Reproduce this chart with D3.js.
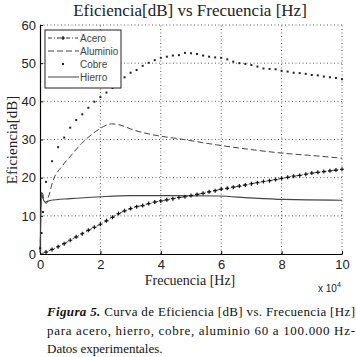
<!DOCTYPE html>
<html>
    <head>
        <meta charset="UTF-8"/>
        <style>
            body { margin: 0; background: #fff; }
        </style>
    </head>
    <body>
        <script src="https://d3js.org/d3.v7.min.js" type="text/javascript"></script>
        <script>
        let width = 356;
        let height = 357;

        // frecuencias medidas [Hz] (acero y cobre)
        let frecMedida = [60, 500, 1000,
            2000, 4000, 6000, 8000, 10000, 12000, 14000, 16000, 18000, 20000,
            22000, 24000, 26000, 28000, 30000, 32000, 34000, 36000, 38000, 40000,
            42000, 44000, 46000, 48000, 50000, 52000, 54000, 56000, 58000, 60000,
            62000, 64000, 66000, 68000, 70000, 72000, 74000, 76000, 78000, 80000,
            82000, 84000, 86000, 88000, 90000, 92000, 94000, 96000, 98000, 100000];
        let acero = [0, 0.1, 0.2,
            0.5, 1.2, 1.9, 2.7, 3.6, 4.5, 5.3, 6.2, 7.0, 7.8,
            8.7, 9.6, 10.6, 11.3, 11.9, 12.4, 12.7, 13.2, 13.6, 13.9,
            14.2, 14.5, 14.8, 15.0, 15.3, 15.6, 15.9, 16.3, 16.6, 17.0,
            17.2, 17.5, 17.8, 18.1, 18.4, 18.7, 19.0, 19.2, 19.5, 19.8,
            20.1, 20.4, 20.6, 20.9, 21.2, 21.4, 21.6, 21.8, 22.0, 22.2];
        let cobre = [1.5, 5.5, 11,
            18.9, 24.3, 28.0, 30.5, 33.1, 35.1, 36.6, 38.3, 39.9, 41.1,
            42.3, 43.5, 45.0, 46.3, 47.5, 48.2, 49.3, 50.1, 50.8, 51.4,
            51.7, 52.0, 52.1, 52.7, 52.6, 52.4, 52.0, 51.7, 51.5, 51.4,
            51.0, 50.4, 50.0, 49.8, 49.5, 49.1, 48.6, 48.5, 48.4, 48.0,
            47.8, 47.5, 47.4, 47.2, 46.9, 46.8, 46.5, 46.3, 46.1, 45.8];

        let frecAluminio = [60, 500, 1000, 1500, 2200, 3000, 4400, 7200, 10500, 13800, 17600,
            21000, 23700, 26500, 30900, 36400, 47500, 58500, 69500, 80600, 91600, 100000];
        let aluminio = [0.5, 16.5, 15.5, 13.6, 13.3, 15.5, 19.4, 22.9, 26, 29, 31.6,
            33.4, 34.1, 33.8, 32.5, 31.4, 30.0, 28.6, 27.4, 26.4, 25.7, 25.1];

        let frecHierro = [60, 500, 1000, 1800, 3300, 10000, 20000, 30000, 42000, 59000, 69500, 80600, 100000];
        let hierro = [0.3, 16, 14.5, 13.6, 14.0, 14.5, 15.0, 15.3, 15.3, 15.2, 14.7, 14.3, 14.1];

        let xTicks = [0, 20000, 40000, 60000, 80000, 100000];
        let xTickLabels = ["0", "2", "4", "6", "8", "10"];
        let yTicks = [0, 10, 20, 30, 40, 50, 60];
        let series = ["Acero", "Aluminio", "Cobre", "Hierro"];

        let x = d3.scaleLinear().domain([0, 100000]).range([40, 342]);
        let y = d3.scaleLinear().domain([0, 60]).range([254, 25]);

        let sans = "'Liberation Sans', Arial, sans-serif";
        let serif = "'Liberation Serif', 'Times New Roman', serif";

        let svg = d3.select("body")
            .append("svg")
            .attr("width", width)
            .attr("height", height)
            .attr("font-family", sans);

        // grid
        svg.append("g").selectAll("line")
            .data(xTicks.slice(1))
            .enter()
            .append("line")
            .attr("x1", d => x(d)).attr("x2", d => x(d))
            .attr("y1", y(0)).attr("y2", y(60))
            .attr("stroke", "#333")
            .attr("stroke-width", 0.8)
            .attr("stroke-dasharray", "1,2.5");
        svg.append("g").selectAll("line")
            .data(yTicks.slice(1))
            .enter()
            .append("line")
            .attr("x1", x(0)).attr("x2", x(100000))
            .attr("y1", d => y(d)).attr("y2", d => y(d))
            .attr("stroke", "#333")
            .attr("stroke-width", 0.8)
            .attr("stroke-dasharray", "1,2.5");

        // axes
        let xAxis = d3.axisBottom(x).tickValues(xTicks)
            .tickFormat((d, i) => xTickLabels[i])
            .tickSizeInner(-3).tickSizeOuter(0).tickPadding(6);
        let gx = svg.append("g").attr("transform", "translate(0," + y(0) + ")").call(xAxis);
        let yAxis = d3.axisLeft(y).tickValues(yTicks)
            .tickSizeInner(-3).tickSizeOuter(0).tickPadding(4);
        let gy = svg.append("g").attr("transform", "translate(" + x(0) + ",0)").call(yAxis);
        [gx, gy].forEach(g => {
            g.select(".domain").attr("stroke", "#000").attr("stroke-width", 1.2);
            g.selectAll(".tick line").attr("stroke", "#000");
            g.selectAll("text").attr("font-size", "13px")
                .attr("font-family", sans).attr("fill", "#222");
        });

        // hierro
        let lineH = d3.line().x((d, i) => x(frecHierro[i])).y(d => y(d)).curve(d3.curveMonotoneX);
        svg.append("path").attr("d", lineH(hierro))
            .attr("fill", "none").attr("stroke", "#444").attr("stroke-width", 1.1);

        // aluminio
        let lineA = d3.line().x((d, i) => x(frecAluminio[i])).y(d => y(d)).curve(d3.curveMonotoneX);
        svg.append("path").attr("d", lineA(aluminio))
            .attr("fill", "none").attr("stroke", "#444").attr("stroke-width", 1)
            .attr("stroke-dasharray", "6,3");

        // acero
        let lineAc = d3.line().x((d, i) => x(frecMedida[i])).y(d => y(d));
        svg.append("path").attr("d", lineAc(acero))
            .attr("fill", "none").attr("stroke", "#333").attr("stroke-width", 0.9)
            .attr("stroke-dasharray", "4,2,1,2");
        svg.append("g").selectAll("path")
            .data(acero.slice(3))
            .enter()
            .append("path")
            .attr("d", (d, i) => {
                let cx = x(frecMedida[i + 3]), cy = y(d);
                return "M" + (cx - 2) + "," + cy + "H" + (cx + 2) + "M" + cx + "," + (cy - 2) + "V" + (cy + 2);
            })
            .attr("stroke", "#111").attr("stroke-width", 1.2);

        // cobre
        svg.append("g").selectAll("rect")
            .data(cobre)
            .enter()
            .append("rect")
            .attr("x", (d, i) => x(frecMedida[i]) - 1)
            .attr("y", d => y(d) - 1)
            .attr("width", 2).attr("height", 2)
            .attr("fill", "#222");

        // legend
        let leg = svg.append("g");
        leg.append("rect").attr("x", 45).attr("y", 30).attr("width", 76).attr("height", 58)
            .attr("fill", "#fff").attr("stroke", "#222").attr("stroke-width", 1);
        let legY = [38, 51, 64, 77];
        series.forEach((s, i) => {
            let yy = legY[i];
            if (s === "Acero") {
                leg.append("line").attr("x1", 48).attr("x2", 78).attr("y1", yy).attr("y2", yy)
                    .attr("stroke", "#333").attr("stroke-dasharray", "4,2,1,2");
                leg.append("path").attr("d", "M61," + yy + "H65M63," + (yy - 2) + "V" + (yy + 2))
                    .attr("stroke", "#111").attr("stroke-width", 1.2);
            } else if (s === "Aluminio") {
                leg.append("line").attr("x1", 48).attr("x2", 79).attr("y1", yy).attr("y2", yy)
                    .attr("stroke", "#444").attr("stroke-dasharray", "6,3");
            } else if (s === "Cobre") {
                leg.append("rect").attr("x", 62).attr("y", yy - 1).attr("width", 2).attr("height", 2)
                    .attr("fill", "#222");
            } else {
                leg.append("line").attr("x1", 48).attr("x2", 79).attr("y1", yy).attr("y2", yy)
                    .attr("stroke", "#444");
            }
            leg.append("text").attr("x", 80).attr("y", yy + 3.5)
                .attr("font-size", "10px").attr("fill", "#444").text(s);
        });

        // titles
        svg.append("text").attr("x", 190).attr("y", 16)
            .attr("text-anchor", "middle").attr("font-family", serif)
            .attr("font-size", "17px").attr("fill", "#222")
            .text("Eficiencia[dB] vs Frecuencia [Hz]");
        svg.append("text").attr("transform", "translate(17,140)rotate(-90)")
            .attr("text-anchor", "middle").attr("font-family", serif)
            .attr("font-size", "15px").attr("fill", "#222")
            .text("Eficiencia[dB]");
        svg.append("text").attr("x", 190).attr("y", 285)
            .attr("text-anchor", "middle").attr("font-family", serif)
            .attr("font-size", "14px").attr("fill", "#222")
            .text("Frecuencia [Hz]");
        let exp = svg.append("text").attr("x", 318).attr("y", 292)
            .attr("font-size", "10px").attr("fill", "#222");
        exp.append("tspan").text("x 10");
        exp.append("tspan").attr("dy", -5).attr("font-size", "7px").text("4");

        // caption
        let cap1 = svg.append("text").attr("x", 47).attr("y", 316)
            .attr("font-family", serif).attr("font-size", "13px").attr("fill", "#111")
            .attr("textLength", 308).attr("lengthAdjust", "spacing");
        cap1.append("tspan").attr("font-weight", "bold").attr("font-style", "italic").text("Figura 5.");
        cap1.append("tspan").text(" Curva de Eficiencia [dB] vs. Frecuencia [Hz]");
        svg.append("text").attr("x", 47).attr("y", 335)
            .attr("font-family", serif).attr("font-size", "13px").attr("fill", "#111")
            .attr("textLength", 308).attr("lengthAdjust", "spacing")
            .text("para acero, hierro, cobre, aluminio 60 a 100.000 Hz-");
        svg.append("text").attr("x", 47).attr("y", 353)
            .attr("font-family", serif).attr("font-size", "13px").attr("fill", "#111")
            .text("Datos experimentales.");
        </script>
    </body>
</html>
